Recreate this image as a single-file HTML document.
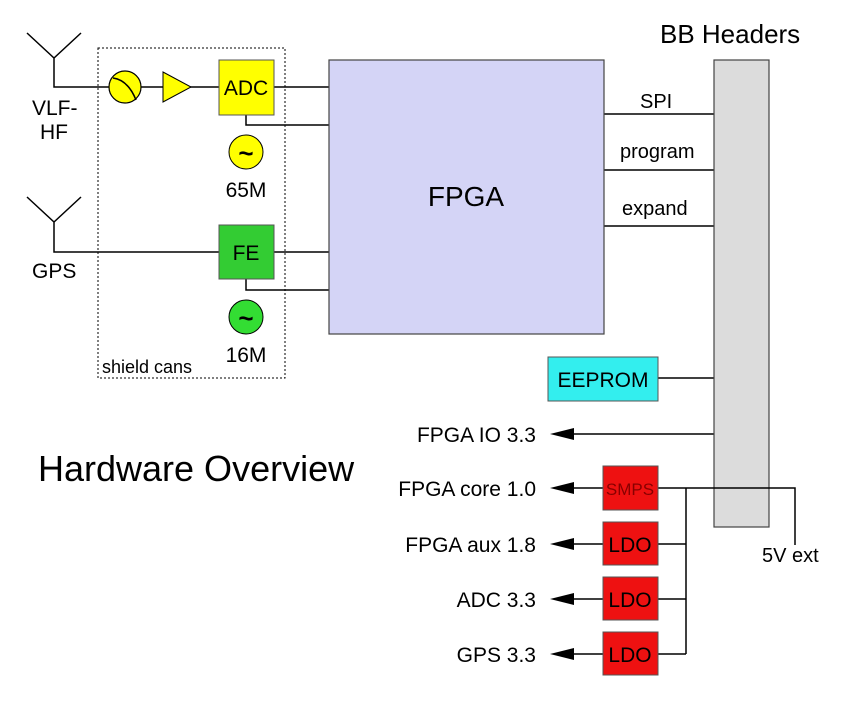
<!DOCTYPE html>
<html><head><meta charset="utf-8"><style>body{margin:0;background:#fff}</style></head><body>
<svg width="841" height="701" viewBox="0 0 841 701" xmlns="http://www.w3.org/2000/svg" font-family="Liberation Sans, sans-serif">
<g stroke="#000" stroke-width="1.5" fill="none">
<path d="M27,33 L54,58 L81,33 M54,58 V87 H219"/>
<path d="M27,197 L54,222 L81,197 M54,222 V252 H219"/>
<rect x="98" y="48" width="187" height="330" stroke-dasharray="2,2" stroke-width="1"/>
<path d="M274,87 H329 M246,115 V125 H329 M274,252 H329 M246,279 V290 H329"/>
<path d="M604,114 H714 M604,170 H714 M604,226 H714 M658,378 H714 M573,434 H714"/>
<path d="M573,488 H603 M573,544 H603 M573,599 H603 M573,654 H603 M686,488 V654 M658,544 H686 M658,599 H686 M658,654 H686"/>
</g>
<g fill="#000">
<path d="M550,434 L574,428 L574,440Z"/><path d="M550,488 L574,482 L574,494Z"/><path d="M550,544 L574,538 L574,550Z"/><path d="M550,599 L574,593 L574,605Z"/><path d="M550,654 L574,648 L574,660Z"/>
</g>
<rect x="329" y="60" width="275" height="274" fill="#d4d4f6" stroke="#444" stroke-width="1.2"/>
<rect x="714" y="60" width="55" height="467" fill="#dcdcdc" stroke="#444" stroke-width="1.2"/>
<path d="M658,488 H795 V545" stroke="#000" stroke-width="1.5" fill="none"/>
<circle cx="125" cy="87" r="16" fill="#ffff00" stroke="#000" stroke-width="1.2"/>
<path d="M113,78 Q128,80 136,100" stroke="#000" stroke-width="1.5" fill="none"/>
<path d="M163,72 L191,87 L163,102Z" fill="#ffff00" stroke="#000" stroke-width="1"/>
<rect x="219" y="60" width="55" height="55" fill="#ffff00" stroke="#555" stroke-width="1"/>
<circle cx="246" cy="152" r="17" fill="#ffff00" stroke="#000" stroke-width="1"/>
<rect x="219" y="225" width="55" height="54" fill="#33cc33" stroke="#555" stroke-width="1"/>
<circle cx="246" cy="317" r="17" fill="#33dd33" stroke="#000" stroke-width="1"/>
<rect x="548" y="357" width="110" height="44" fill="#33eeee" stroke="#555" stroke-width="1"/>
<g fill="#ee1111" stroke="#555" stroke-width="1">
<rect x="603" y="466" width="55" height="44"/><rect x="603" y="522" width="55" height="43"/><rect x="603" y="577" width="55" height="43"/><rect x="603" y="632" width="55" height="43"/>
</g>
<g font-size="21" fill="#000">
<text x="246" y="95" text-anchor="middle">ADC</text>
<text x="246" y="260" text-anchor="middle">FE</text>
<text x="246" y="162" text-anchor="middle" font-size="26" font-weight="bold">~</text>
<text x="246" y="327" text-anchor="middle" font-size="26" font-weight="bold">~</text>
<text x="246" y="197" text-anchor="middle">65M</text>
<text x="246" y="362" text-anchor="middle">16M</text>
<text x="102" y="373" font-size="18">shield cans</text>
<text x="32" y="115">VLF-</text>
<text x="40" y="139">HF</text>
<text x="32" y="278">GPS</text>
<text x="466" y="206" text-anchor="middle" font-size="28">FPGA</text>
<text x="660" y="43" font-size="26">BB Headers</text>
<text x="640" y="108" font-size="20">SPI</text>
<text x="620" y="158" font-size="20">program</text>
<text x="622" y="215" font-size="20">expand</text>
<text x="603" y="387" text-anchor="middle">EEPROM</text>
<text x="536" y="442" text-anchor="end">FPGA IO 3.3</text>
<text x="536" y="496" text-anchor="end">FPGA core 1.0</text>
<text x="536" y="552" text-anchor="end">FPGA aux 1.8</text>
<text x="536" y="607" text-anchor="end">ADC 3.3</text>
<text x="536" y="662" text-anchor="end">GPS 3.3</text>
<text x="630" y="495" text-anchor="middle" font-size="17" fill="#880000">SMPS</text>
<text x="630" y="552" text-anchor="middle">LDO</text>
<text x="630" y="607" text-anchor="middle">LDO</text>
<text x="630" y="662" text-anchor="middle">LDO</text>
<text x="762" y="562" font-size="20">5V ext</text>
<text x="38" y="481" font-size="36">Hardware Overview</text>
</g>
</svg>
</body></html>
